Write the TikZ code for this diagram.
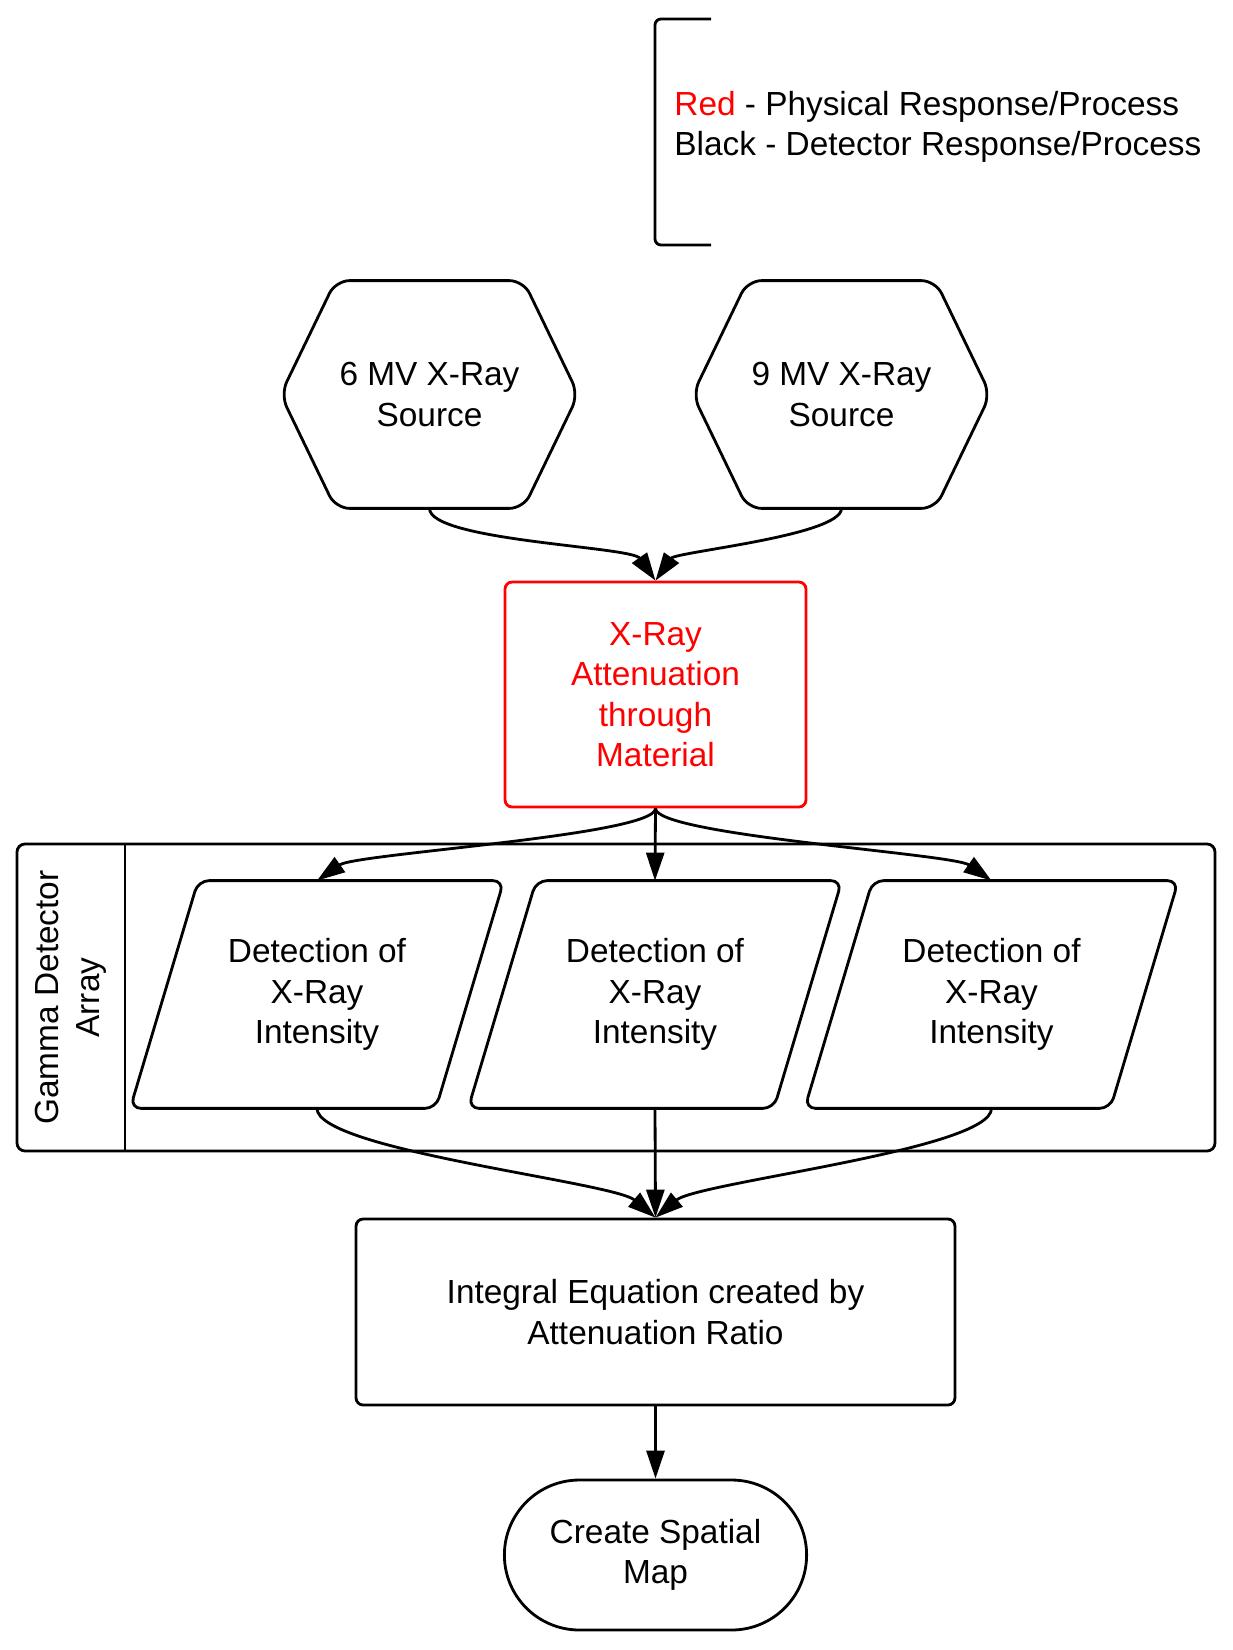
\documentclass[tikz,border=0pt]{standalone}
\usepackage{fontspec}
\setmainfont{Liberation Sans}
\usetikzlibrary{shapes.misc, arrows.meta}

\begin{document}
\begin{tikzpicture}[x=0.02cm, y=-0.02cm,
    line width=1.6pt,
    >={Triangle[length=0.56cm, width=0.36cm]},
    every node/.style={font=\fontsize{19pt}{23pt}\selectfont, align=center},
    process/.style={draw, rectangle, rounded corners=0.14cm, minimum width=11.98cm, minimum height=3.72cm},
    hexbox/.style={rectangle, minimum width=5.9cm, minimum height=4.5cm},
    detbox/.style={rectangle, minimum width=7.42cm, minimum height=4.5cm},
    terminal/.style={draw, rounded rectangle, minimum width=6.28cm, minimum height=3cm}]
    \useasboundingbox (0,0) rectangle (1233,1650);

    % Legend
    \draw[rounded corners=0.12cm] (711,19) -- (655,19) -- (655,245) -- (711,245);
    \node[anchor=west, align=left, inner sep=0pt] (legend) at (673,127)
        {{\color{red}Red} - Physical Response/Process\\Black - Detector Response/Process};

    % Sources
    \node[hexbox] (src6) at (429.5,394.5) {6 MV X-Ray\\Source};
    \node[hexbox] (src9) at (841.5,394.5) {9 MV X-Ray\\Source};
    \foreach \h in {src6, src9}
        \draw[rounded corners=0.28cm] (\h.west) -- ([xshift=1.1cm]\h.north west) -- ([xshift=-1.1cm]\h.north east)
            -- (\h.east) -- ([xshift=-1.1cm]\h.south east) -- ([xshift=1.1cm]\h.south west) -- cycle;

    % Attenuation
    \node[process, draw=red, text=red, minimum width=6.02cm, minimum height=4.5cm] (atten) at (655.5,694.5)
        {X-Ray\\Attenuation\\through\\Material};

    % Gamma detector array
    \draw[rounded corners=0.16cm] (17,844) rectangle (1215,1151);
    \draw (125,844) -- (125,1151);
    \node[rotate=90] (array) at (71,997.5) {Gamma Detector\\Array};
    \node[detbox] (det1) at (317,994.5) {Detection of\\X-Ray\\Intensity};
    \node[detbox] (det2) at (655,994.5) {Detection of\\X-Ray\\Intensity};
    \node[detbox] (det3) at (991.5,994.5) {Detection of\\X-Ray\\Intensity};
    \foreach \d in {det1, det2, det3}
        \draw[rounded corners=0.22cm] ([xshift=1.36cm]\d.north west) -- (\d.north east)
            -- ([xshift=-1.36cm]\d.south east) -- (\d.south west) -- cycle;

    % Integral equation and map
    \node[process] (integral) at (655.5,1312) {Integral Equation created by\\Attenuation Ratio};
    \node[terminal] (map) at (655.5,1555) {Create Spatial\\Map};

    % Connectors
    \draw[->] (src6.south) to[out=-90, in=125, out looseness=0.35, in looseness=0.45] (atten.north);
    \draw[->] (src9.south) to[out=-90, in=55, out looseness=0.35, in looseness=0.45] (atten.north);
    \draw[->] (atten.south) to[out=-90, in=35, out looseness=0.2, in looseness=0.35] (det1.north);
    \draw[->] (atten.south) -- (det2.north);
    \draw[->] (atten.south) to[out=-90, in=145, out looseness=0.2, in looseness=0.35] (det3.north);
    \draw[->] (det1.south) to[out=-90, in=140, out looseness=0.3, in looseness=0.4] (integral.north);
    \draw[->] (det2.south) -- (integral.north);
    \draw[->] (det3.south) to[out=-90, in=40, out looseness=0.3, in looseness=0.4] (integral.north);
    \draw[->] (integral.south) -- (map.north);
\end{tikzpicture}
\end{document}
